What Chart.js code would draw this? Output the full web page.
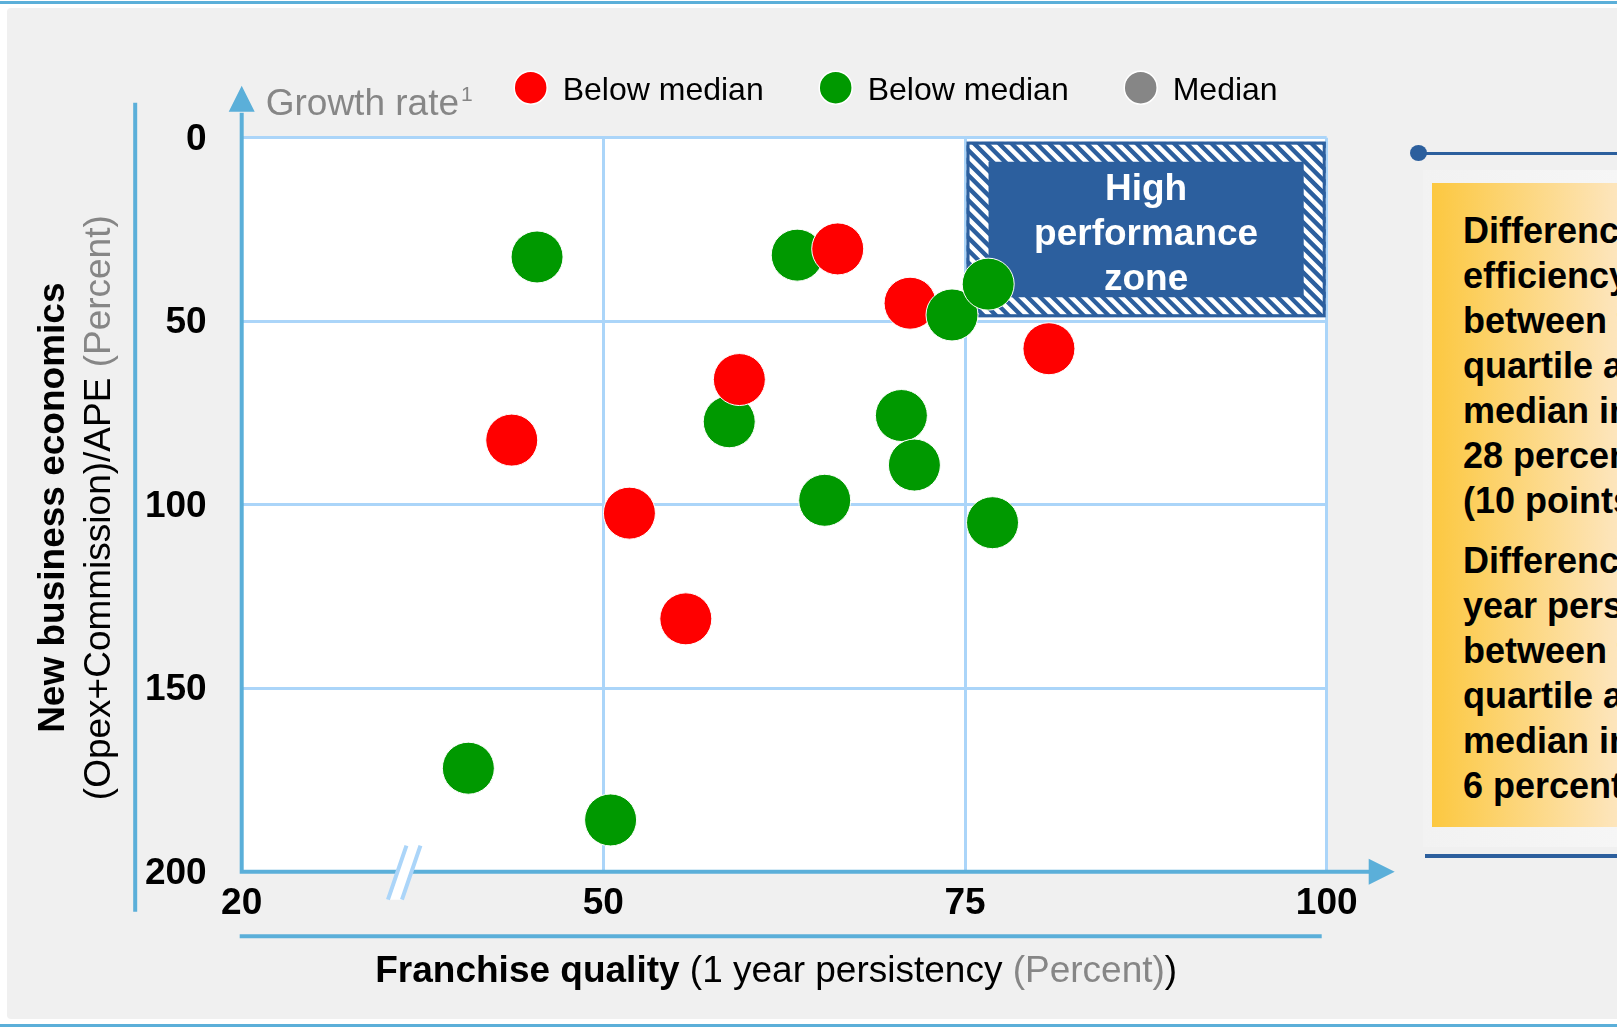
<!DOCTYPE html>
<html>
<head>
<meta charset="utf-8">
<script src="https://cdn.jsdelivr.net/npm/chart.js@4.4.1/dist/chart.umd.min.js"></script>
<style>
  html, body { margin: 0; padding: 0; background: #fff; overflow: hidden; }
  #page { position: relative; width: 1617px; height: 1027px; overflow: hidden;
          font-family: "Liberation Sans", Arial, Helvetica, sans-serif; }
  .rule { position: absolute; left: 0; width: 1617px; height: 3px; background: #5bafd9; }
  #panel { position: absolute; left: 7px; top: 8px; width: 1630px; height: 1011px;
           background: #f0f0f0; border-radius: 4px; }
  #chart { position: absolute; left: 0; top: 0; }
  #note { position: absolute; left: 1423px; top: 170px; width: 200px; height: 677px;
          background: linear-gradient(90deg, #f2f2f2, #f6f6f6); }
  #noteTop { position: absolute; left: 1418px; top: 152px; width: 210px; height: 3px; background: #2c5f9d; }
  #noteDot { position: absolute; left: 1410px; top: 145px; width: 17px; height: 16px;
             border-radius: 50%; background: #2c5f9d; }
  #noteBottom { position: absolute; left: 1425px; top: 854px; width: 200px; height: 4px; background: #2c5f9d; }
  #box { position: absolute; left: 1432px; top: 183px; width: 260px; height: 644px;
         background: linear-gradient(90deg, #fcc840 0px, #fde6c0 190px, #fdebd0 260px); }
  #box p { margin: 0; padding-left: 31px; font-weight: bold; font-size: 36px; line-height: 45px;
           white-space: pre; color: #000; }
  #box p.first { padding-top: 25px; }
  #box p.second { padding-top: 15px; }
</style>
</head>
<body>
<div id="page">
  <div class="rule" style="top:1px"></div>
  <div id="panel"></div>
  <div class="rule" style="top:1024px"></div>
  <canvas id="chart" width="1617" height="1027"></canvas>
  <div id="note"></div>
  <div id="noteTop"></div>
  <div id="noteDot"></div>
  <div id="box">
    <p class="first">Difference in
efficiency
between top
quartile and
median insurers
28 percent
(10 points)</p>
    <p class="second">Difference in 1
year persistency
between top
quartile and
median insurers
6 percent</p>
  </div>
  <div id="noteBottom"></div>
</div>
<script>
// axis ticks
const xTicks = [20, 50, 75, 100];
const yTicks = [0, 50, 100, 150, 200];

// franchise quality (x) vs new business economics (y)
const redX = [42.4, 51.8, 55.7, 59.4, 66.2, 71.2, 80.8];
const redY = [82.4, 102.3, 131.1, 65.9, 30.3, 45.1, 57.5];

const greenX = [44.5, 38.8, 50.5, 58.7, 63.4, 65.3, 70.6, 71.5, 76.9];
const greenY = [32.5, 171.8, 185.9, 77.4, 32.0, 98.8, 75.7, 89.2, 104.9];

// green companies that overlap a red one and sit on top of it
const greenTopX = [74.1, 76.6];
const greenTopY = [48.3, 39.9];

const medianX = [];
const medianY = [];

const legendLabels = ['Below median', 'Below median', 'Median'];
const legendColors = ['#ff0000', '#009900', '#868686'];

const zoneX = [75, 100];
const zoneY = [0, 50];
const zoneLines = ['High', 'performance', 'zone'];
const axisBreakAt = 33.5;

const FONT = '"Liberation Sans", Arial, Helvetica, sans-serif';
const AXIS = '#5bafd9';
const GRID = '#abd5f9';
const NAVY = '#2c5f9e';
const GREY_TEXT = '#868686';

// x axis with a break: 20-50 takes the first third, 50-100 the rest
class BrokenScale extends Chart.LinearScale {
  toDecimal(v) {
    return v <= 50 ? (v - 20) / 90 : 1 / 3 + (v - 50) / 75;
  }
  getPixelForValue(value) {
    return this.getPixelForDecimal(this.toDecimal(value));
  }
  getValueForPixel(pixel) {
    const d = this.getDecimalForPixel(pixel);
    return d <= 1 / 3 ? 20 + d * 90 : 50 + (d - 1 / 3) * 75;
  }
}
BrokenScale.id = 'broken';
BrokenScale.defaults = Chart.LinearScale.defaults;
Chart.register(BrokenScale);

function pointSet(label, xs, ys, color) {
  return {
    label: label,
    data: xs.map((x, i) => ({ x: x, y: ys[i] })),
    backgroundColor: color,
    borderColor: '#ffffff',
    borderWidth: 1,
    pointRadius: 26,
    pointHoverRadius: 26
  };
}

function drawRuns(ctx, runs, cx, cy) {
  let total = 0;
  runs.forEach(r => { ctx.font = r.font; r.w = ctx.measureText(r.text).width; total += r.w; });
  let x = cx - total / 2;
  ctx.textAlign = 'left';
  ctx.textBaseline = 'alphabetic';
  runs.forEach(r => {
    ctx.font = r.font;
    ctx.fillStyle = r.color;
    ctx.fillText(r.text, x, cy);
    x += r.w;
  });
}

function drawZone(chart) {
  const ctx = chart.ctx;
  const xs = chart.scales.x, ys = chart.scales.y;
  const L = xs.getPixelForValue(zoneX[0]) + 1.5;
  const R = xs.getPixelForValue(zoneX[1]) - 1;
  const T = ys.getPixelForValue(zoneY[0]) + 4;
  const B = ys.getPixelForValue(zoneY[1]) - 4;
  const iL = L + 22, iR = R - 22, iT = T + 20, iB = B - 20;

  ctx.save();
  ctx.fillStyle = NAVY;
  ctx.fillRect(L, T, R - L, B - T);

  // hatched frame
  ctx.beginPath();
  ctx.rect(L, T, R - L, B - T);
  ctx.rect(iL, iT, iR - iL, iB - iT);
  ctx.clip('evenodd');
  ctx.strokeStyle = '#ffffff';
  ctx.lineWidth = 4.5;
  ctx.beginPath();
  const h = B - T;
  for (let x = L - h; x < R + 13; x += 12.5) {
    ctx.moveTo(x, T);
    ctx.lineTo(x + h, B);
  }
  ctx.stroke();
  ctx.restore();

  ctx.save();
  ctx.strokeStyle = NAVY;
  ctx.lineWidth = 3;
  ctx.strokeRect(L + 1.5, T + 1.5, R - L - 3, B - T - 3);

  ctx.fillStyle = '#ffffff';
  ctx.font = 'bold 37px ' + FONT;
  ctx.textAlign = 'center';
  ctx.textBaseline = 'middle';
  const cx = (iL + iR) / 2, cy = (iT + iB) / 2 + 5;
  zoneLines.forEach((t, i) => ctx.fillText(t, cx, cy + (i - 1) * 45));
  ctx.restore();
}

function drawAxes(chart) {
  const ctx = chart.ctx, a = chart.chartArea;
  ctx.save();
  ctx.strokeStyle = AXIS;
  ctx.fillStyle = AXIS;
  ctx.lineWidth = 4;
  ctx.beginPath();
  ctx.moveTo(a.left, a.bottom + 2);
  ctx.lineTo(a.left, a.top - 25);
  ctx.moveTo(a.left - 2, a.bottom);
  ctx.lineTo(a.right + 43, a.bottom);
  // outer guide lines
  ctx.moveTo(a.left - 106.5, a.top - 35);
  ctx.lineTo(a.left - 106.5, a.bottom + 40);
  ctx.moveTo(a.left - 2, a.bottom + 64.5);
  ctx.lineTo(a.right - 5, a.bottom + 64.5);
  ctx.stroke();

  // arrowheads
  ctx.beginPath();
  ctx.moveTo(a.left, a.top - 52);
  ctx.lineTo(a.left + 13, a.top - 26);
  ctx.lineTo(a.left - 13, a.top - 26);
  ctx.closePath();
  ctx.moveTo(a.right + 68, a.bottom);
  ctx.lineTo(a.right + 42, a.bottom - 13);
  ctx.lineTo(a.right + 42, a.bottom + 13);
  ctx.closePath();
  ctx.fill();

  // axis break
  const bx = chart.scales.x.getPixelForValue(axisBreakAt), y0 = a.bottom;
  ctx.beginPath();
  ctx.moveTo(bx + 2, y0 - 26);
  ctx.lineTo(bx + 16, y0 - 26);
  ctx.lineTo(bx - 2.5, y0 + 28);
  ctx.lineTo(bx - 16.5, y0 + 28);
  ctx.closePath();
  ctx.fillStyle = '#ffffff';
  ctx.fill();
  ctx.strokeStyle = GRID;
  ctx.lineWidth = 4;
  ctx.beginPath();
  ctx.moveTo(bx + 2, y0 - 26);
  ctx.lineTo(bx - 16.5, y0 + 28);
  ctx.moveTo(bx + 16, y0 - 26);
  ctx.lineTo(bx - 2.5, y0 + 28);
  ctx.stroke();
  ctx.restore();
}

function drawTitles(chart) {
  const ctx = chart.ctx, a = chart.chartArea;
  const bold = 'bold 37px ' + FONT, reg = '37px ' + FONT;
  ctx.save();
  drawRuns(ctx, [
    { text: 'Franchise quality', font: bold, color: '#000' },
    { text: ' (1 year persistency ', font: reg, color: '#000' },
    { text: '(Percent)', font: reg, color: GREY_TEXT },
    { text: ')', font: reg, color: '#000' }
  ], (a.left + a.right) / 2 - 8, a.bottom + 110);

  const cy = (a.top + a.bottom) / 2 + 3;
  ctx.translate(a.left - 178, cy);
  ctx.rotate(-Math.PI / 2);
  drawRuns(ctx, [{ text: 'New business economics', font: bold, color: '#000' }], 0, 0);
  ctx.translate(0, 46);
  drawRuns(ctx, [
    { text: '(Opex+Commission)/APE ', font: reg, color: '#000' },
    { text: '(Percent)', font: reg, color: GREY_TEXT }
  ], 0, 0);
  ctx.restore();
}

function drawLegend(chart) {
  const ctx = chart.ctx, a = chart.chartArea;
  ctx.save();
  ctx.textAlign = 'left';
  ctx.textBaseline = 'alphabetic';
  ctx.font = '37px ' + FONT;
  ctx.fillStyle = GREY_TEXT;
  const gx = a.left + 24, gy = a.top - 23;
  ctx.fillText('Growth rate', gx, gy);
  const gw = ctx.measureText('Growth rate').width;
  ctx.font = '21px ' + FONT;
  ctx.fillText('1', gx + gw + 2, gy - 14);

  ctx.font = '32px ' + FONT;
  let cx = a.left + 289;
  const cyc = a.top - 50;
  legendLabels.forEach((label, i) => {
    ctx.beginPath();
    ctx.arc(cx, cyc, 16.5, 0, Math.PI * 2);
    ctx.fillStyle = legendColors[i];
    ctx.fill();
    ctx.lineWidth = 1.5;
    ctx.strokeStyle = '#ffffff';
    ctx.stroke();
    ctx.fillStyle = '#000';
    ctx.fillText(label, cx + 32, cyc + 12);
    cx += 32 + ctx.measureText(label).width + 72;
  });
  ctx.restore();
}

const decor = {
  id: 'decor',
  beforeDraw(chart) {
    const ctx = chart.ctx, a = chart.chartArea;
    ctx.save();
    ctx.fillStyle = '#ffffff';
    ctx.fillRect(a.left, a.top, a.right - a.left, a.bottom - a.top);
    ctx.restore();
  },
  beforeDatasetsDraw(chart) {
    drawZone(chart);
    drawAxes(chart);
  },
  afterDraw(chart) {
    drawTitles(chart);
    drawLegend(chart);
  }
};

new Chart(document.getElementById('chart'), {
  type: 'scatter',
  data: {
    datasets: [
      pointSet('Below median', greenTopX, greenTopY, legendColors[1]),
      pointSet('Below median', redX, redY, legendColors[0]),
      pointSet('Below median', greenX, greenY, legendColors[1]),
      pointSet('Median', medianX, medianY, legendColors[2])
    ]
  },
  options: {
    responsive: false,
    animation: false,
    layout: { padding: { left: 140, right: 290.3, top: 137.7, bottom: 95.3 } },
    plugins: {
      legend: { display: false },
      tooltip: { enabled: false }
    },
    scales: {
      x: {
        type: 'broken',
        min: 20,
        max: 100,
        afterBuildTicks: s => { s.ticks = xTicks.map(v => ({ value: v })); },
        afterFit: s => { s.height = 60; },
        grid: { color: GRID, lineWidth: 3, drawTicks: false },
        border: { display: false },
        ticks: {
          padding: 10,
          color: '#000',
          font: { family: FONT, size: 37, weight: 'bold' },
          callback: v => String(v)
        }
      },
      y: {
        reverse: true,
        min: 0,
        max: 200,
        afterBuildTicks: s => { s.ticks = yTicks.map(v => ({ value: v })); },
        afterFit: s => { s.width = 101.7; },
        grid: { color: GRID, lineWidth: 3, drawTicks: false },
        border: { display: false },
        ticks: {
          padding: 35,
          labelOffset: 2,
          color: '#000',
          font: { family: FONT, size: 37, weight: 'bold' },
          callback: v => String(v)
        }
      }
    }
  },
  plugins: [decor]
});
</script>
</body>
</html>
